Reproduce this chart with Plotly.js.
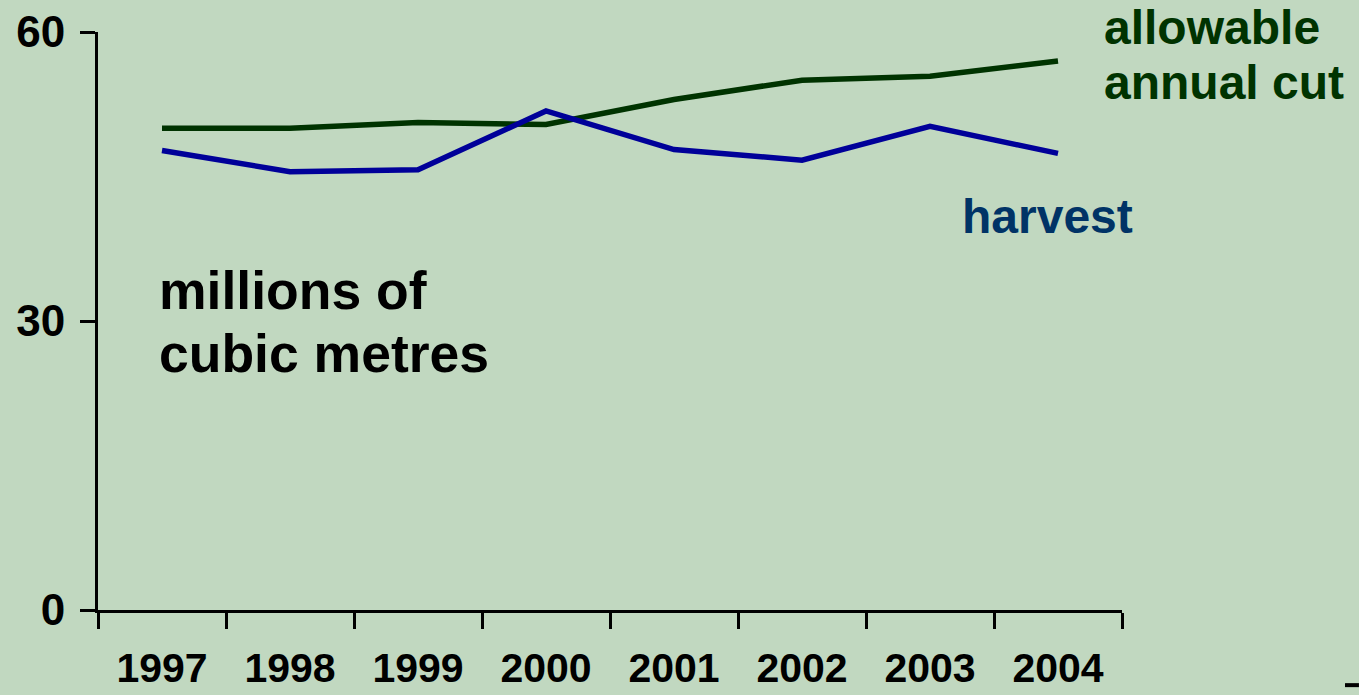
<!DOCTYPE html>
<html>
<head>
<meta charset="utf-8">
<script src="https://cdn.plot.ly/plotly-3.0.1.min.js"></script>
<style>
html,body{margin:0;padding:0;background:#c1d8c0;}
#chart{width:1359px;height:695px;}
</style>
</head>
<body>
<div id="chart"></div>
<script>
var years = ["1997","1998","1999","2000","2001","2002","2003","2004"];
var allowableCut = [50.0, 50.0, 50.6, 50.4, 53.0, 55.0, 55.4, 57.0];
var harvest = [47.7, 45.5, 45.7, 51.8, 47.8, 46.7, 50.2, 47.4];
var yTicks = [0, 30, 60];

var FONT = "Liberation Sans, Arial, sans-serif";

var traces = [
  {x: years, y: allowableCut, type: "scatter", mode: "lines", name: "allowable annual cut",
   line: {color: "#003300", width: 5.5}},
  {x: years, y: harvest, type: "scatter", mode: "lines", name: "harvest",
   line: {color: "#000099", width: 5.5}}
];

var layout = {
  width: 1359, height: 695,
  margin: {l: 98, r: 237, t: 32, b: 85, pad: 0},
  paper_bgcolor: "#c1d8c0", plot_bgcolor: "#c1d8c0",
  showlegend: false,
  font: {family: FONT, color: "#000"},
  xaxis: {
    type: "category", range: [-0.5, 7.5], tickson: "boundaries",
    showgrid: false, zeroline: false,
    showline: true, linecolor: "#000", linewidth: 3,
    ticks: "outside", ticklen: 16, tickwidth: 3, tickcolor: "#000",
    tickfont: {family: FONT, size: 41, weight: "bold", color: "#000"},
    ticklabelstandoff: 20, fixedrange: true
  },
  yaxis: {
    range: [0, 60], tickvals: yTicks, ticktext: yTicks.map(String),
    showgrid: false, zeroline: false,
    showline: true, linecolor: "#000", linewidth: 3,
    ticks: "outside", ticklen: 15, tickwidth: 3, tickcolor: "#000",
    tickfont: {family: FONT, size: 44, weight: "bold", color: "#000"},
    ticklabelstandoff: 6, fixedrange: true
  },
  annotations: [
    {text: "allowable", xref: "paper", yref: "paper", x: 0.980, y: 1.008, xanchor: "left", yanchor: "middle",
     showarrow: false, font: {family: FONT, size: 48, weight: "bold", color: "#003300"}},
    {text: "annual cut", xref: "paper", yref: "paper", x: 0.980, y: 0.912, xanchor: "left", yanchor: "middle",
     showarrow: false, font: {family: FONT, size: 48, weight: "bold", color: "#003300"}},
    {text: "harvest", xref: "paper", yref: "paper", x: 0.842, y: 0.680, xanchor: "left", yanchor: "middle",
     showarrow: false, font: {family: FONT, size: 48, weight: "bold", color: "#003366"}},
    {text: "millions of", xref: "paper", yref: "paper", x: 0.058, y: 0.553, xanchor: "left", yanchor: "middle",
     showarrow: false, font: {family: FONT, size: 53.5, weight: "bold", color: "#000"}},
    {text: "cubic metres", xref: "paper", yref: "paper", x: 0.058, y: 0.443, xanchor: "left", yanchor: "middle",
     showarrow: false, font: {family: FONT, size: 53.5, weight: "bold", color: "#000"}}
  ],
  shapes: [
    {type: "line", xref: "paper", yref: "paper", x0: 1.2178, x1: 1.2314, y0: -0.130, y1: -0.130,
     line: {color: "#000", width: 4}}
  ]
};

Plotly.newPlot("chart", traces, layout, {displayModeBar: false, staticPlot: true});
</script>
</body>
</html>
